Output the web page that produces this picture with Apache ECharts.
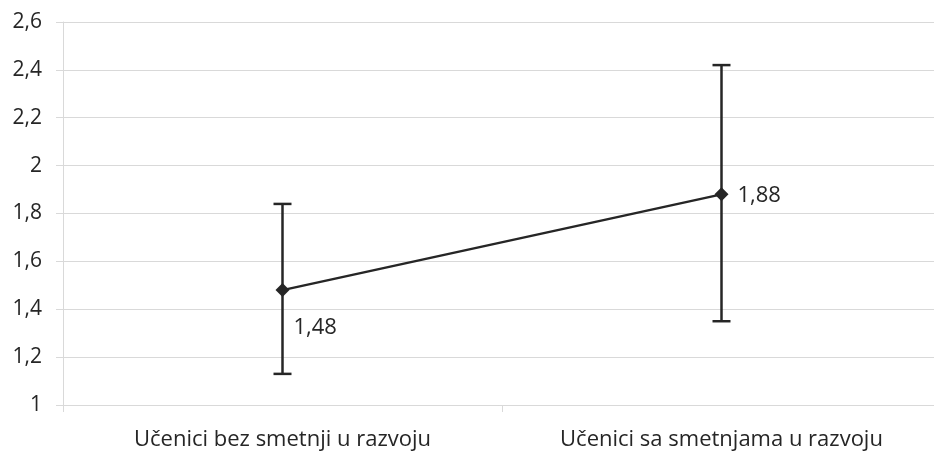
<!DOCTYPE html>
<html><head><meta charset="utf-8">
<script src="https://cdn.jsdelivr.net/npm/echarts@6/dist/echarts.min.js"></script>
<style>html,body{margin:0;padding:0;background:#fff}#c{width:934px;height:455px}</style>
</head><body><div id="c"></div>
<script>
var categories = ['Učenici bez smetnji u razvoju', 'Učenici sa smetnjama u razvoju'];
var means = [1.48, 1.88];
var lows = [1.13, 1.35];
var highs = [1.84, 2.42];
var yTicks = {min: 1, max: 2.6, interval: 0.2};

var chart = echarts.init(document.getElementById('c'));
var font = 'Open Sans';
var ink = '#262626';
chart.setOption({
  animation: false,
  grid: {left: 63, width: 878, top: 22, bottom: 50, outerBoundsMode: 'none', containLabel: false},
  xAxis: {
    type: 'category', data: categories, boundaryGap: true,
    axisLine: {show: true, lineStyle: {color: '#d9d9d9', width: 1}},
    axisTick: {show: true, length: 7, lineStyle: {color: '#d9d9d9'}},
    axisLabel: {color: ink, fontSize: 22, fontFamily: font, margin: 24}
  },
  yAxis: {
    type: 'value', min: yTicks.min, max: yTicks.max, interval: yTicks.interval,
    axisLine: {show: true, lineStyle: {color: '#d9d9d9', width: 1}},
    axisTick: {show: true, length: 7, lineStyle: {color: '#d9d9d9'}},
    splitLine: {lineStyle: {color: '#d9d9d9', width: 1}},
    axisLabel: {color: ink, fontSize: 21, fontFamily: font, margin: 21,
      formatter: function (v) { return String(Math.round(v * 10) / 10).replace('.', ','); }}
  },
  series: [
    {
      type: 'custom',
      data: categories.map(function (c, i) { return [i, lows[i], highs[i]]; }),
      renderItem: function (params, api) {
        var lo = api.coord([api.value(0), api.value(1)]);
        var hi = api.coord([api.value(0), api.value(2)]);
        var hw = 9;
        var st = {stroke: ink, lineWidth: 2.5};
        return {type: 'group', children: [
          {type: 'line', shape: {x1: lo[0], y1: lo[1], x2: hi[0], y2: hi[1]}, style: st},
          {type: 'line', shape: {x1: lo[0] - hw, y1: lo[1], x2: lo[0] + hw, y2: lo[1]}, style: st},
          {type: 'line', shape: {x1: hi[0] - hw, y1: hi[1], x2: hi[0] + hw, y2: hi[1]}, style: st}
        ]};
      },
      z: 2
    },
    {
      type: 'line',
      data: means.map(function (v, i) {
        return {value: v, label: i === 0 ? {position: 'right', offset: [-1, 38]} : {position: 'right', offset: [4, 1]}};
      }),
      symbol: 'diamond', symbolSize: 14,
      lineStyle: {color: ink, width: 2.5},
      itemStyle: {color: ink},
      label: {show: true, color: ink, fontSize: 22, fontFamily: font,
        formatter: function (p) { return String(p.value).replace('.', ','); }},
      z: 3
    }
  ]
});
</script></body></html>
